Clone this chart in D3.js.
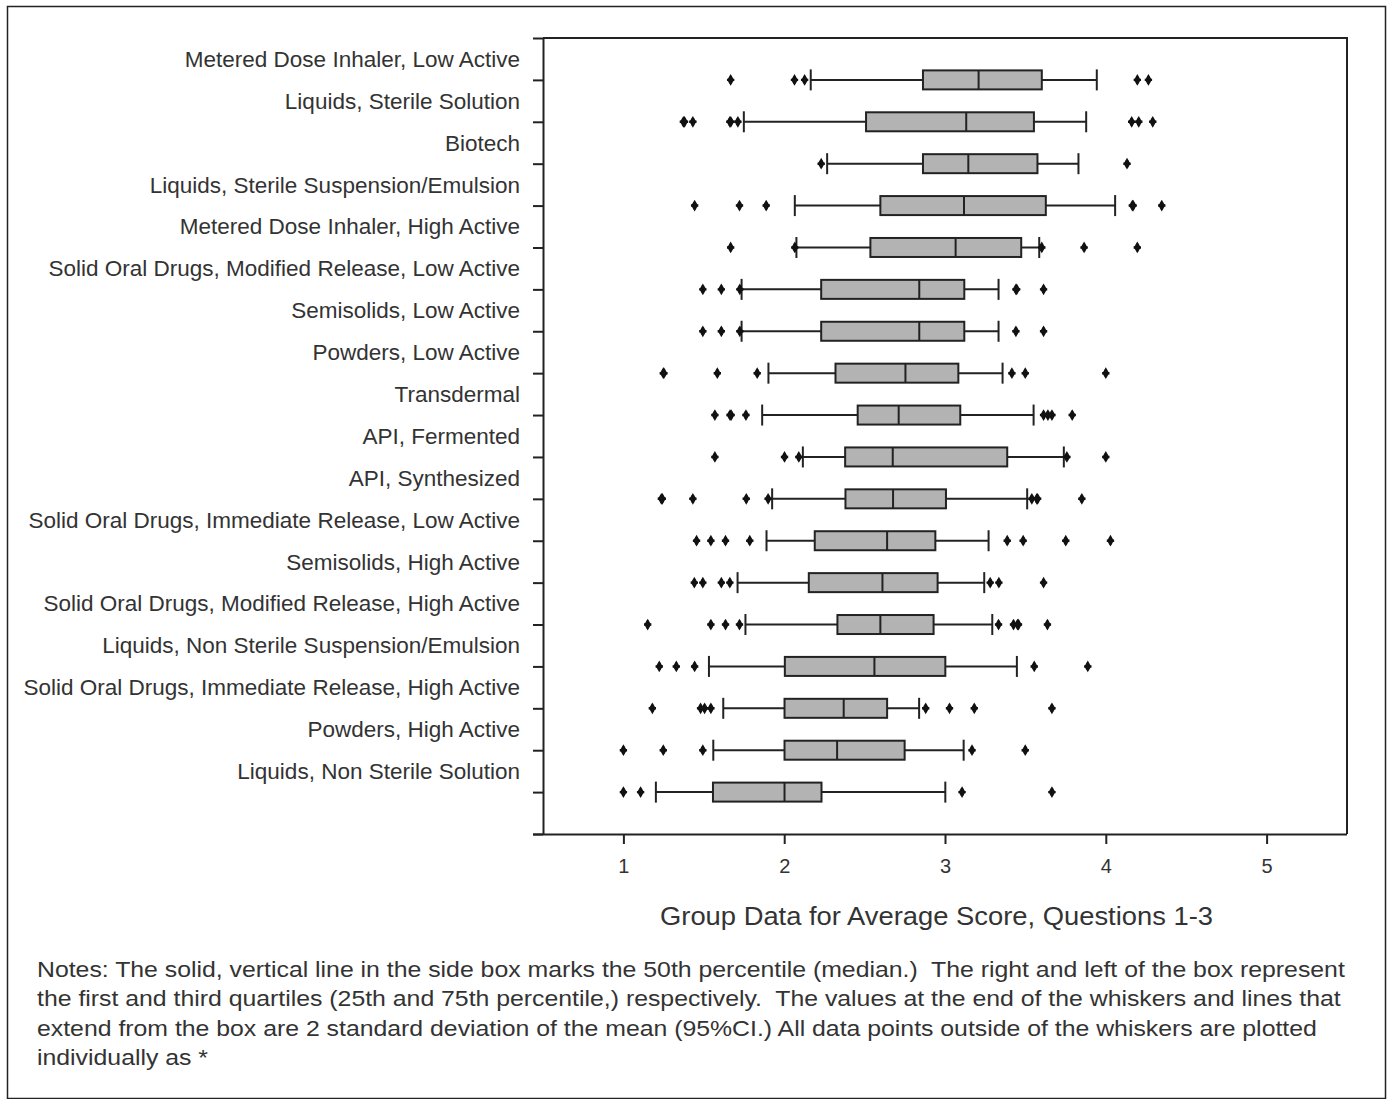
<!DOCTYPE html>
<html>
<head>
<meta charset="utf-8">
<script src="https://cdn.jsdelivr.net/npm/d3@7"></script>
<style>
  html, body { margin: 0; padding: 0; background: #fff; }
  svg { display: block; }
  text { font-family: "Liberation Sans", Arial, sans-serif; fill: #333; }
</style>
</head>
<body>
<svg id="chart" width="1391" height="1099"></svg>
<script>
// ---------------- data ----------------
const categories = [
  "Metered Dose Inhaler, Low Active",
  "Liquids, Sterile Solution",
  "Biotech",
  "Liquids, Sterile Suspension/Emulsion",
  "Metered Dose Inhaler, High Active",
  "Solid Oral Drugs, Modified Release, Low Active",
  "Semisolids, Low Active",
  "Powders, Low Active",
  "Transdermal",
  "API, Fermented",
  "API, Synthesized",
  "Solid Oral Drugs, Immediate Release, Low Active",
  "Semisolids, High Active",
  "Solid Oral Drugs, Modified Release, High Active",
  "Liquids, Non Sterile Suspension/Emulsion",
  "Solid Oral Drugs, Immediate Release, High Active",
  "Powders, High Active",
  "Liquids, Non Sterile Solution"
];
const whiskerLow  = [2.165, 1.749, 2.267, 2.066, 2.076, 1.735, 1.735, 1.902, 1.863, 2.116, 1.925, 1.890, 1.710, 1.759, 1.532, 1.621, 1.559, 1.202];
const q1          = [2.863, 2.509, 2.863, 2.598, 2.536, 2.230, 2.230, 2.319, 2.457, 2.379, 2.381, 2.190, 2.153, 2.331, 2.004, 2.002, 2.002, 1.557];
const medians     = [3.209, 3.132, 3.145, 3.118, 3.066, 2.840, 2.840, 2.754, 2.712, 2.675, 2.677, 2.640, 2.611, 2.598, 2.561, 2.370, 2.329, 2.002];
const q3          = [3.602, 3.553, 3.575, 3.627, 3.474, 3.120, 3.120, 3.083, 3.095, 3.387, 3.006, 2.940, 2.954, 2.929, 3.002, 2.640, 2.749, 2.232];
const whiskerHigh = [3.944, 3.878, 3.830, 4.058, 3.586, 3.333, 3.333, 3.358, 3.551, 3.739, 3.511, 3.271, 3.244, 3.294, 3.447, 2.839, 3.116, 3.002];
const outliers = [
  [1.667, 2.064, 2.127, 4.196, 4.265],
  [1.373, 1.380, 1.432, 1.662, 1.668, 1.712, 4.161, 4.205, 4.292],
  [2.230, 4.132],
  [1.443, 1.722, 1.888, 4.165, 4.170, 4.348],
  [1.667, 2.066, 3.602, 3.865, 4.196],
  [1.494, 1.609, 1.724, 3.441, 3.446, 3.613],
  [1.494, 1.609, 1.724, 3.441, 3.613],
  [1.248, 1.252, 1.584, 1.832, 3.416, 3.499, 4.000],
  [1.569, 1.663, 1.670, 1.762, 3.613, 3.640, 3.665, 3.791],
  [1.569, 2.002, 2.091, 3.758, 4.000],
  [1.236, 1.242, 1.432, 1.764, 1.900, 3.540, 3.571, 3.576, 3.851],
  [1.455, 1.544, 1.635, 1.786, 3.387, 3.486, 3.751, 4.029],
  [1.441, 1.494, 1.609, 1.662, 3.281, 3.335, 3.613],
  [1.151, 1.544, 1.635, 1.722, 3.333, 3.426, 3.451, 3.457, 3.637],
  [1.223, 1.329, 1.443, 3.555, 3.888],
  [1.180, 1.480, 1.505, 1.544, 2.880, 3.028, 3.182, 3.665],
  [1.000, 1.248, 1.494, 3.168, 3.499],
  [1.000, 1.107, 3.106, 3.665]
];
const xTicks = [1, 2, 3, 4, 5];
const xTitle = "Group Data for Average Score, Questions 1-3";
const notes = [
  "Notes: The solid, vertical line in the side box marks the 50th percentile (median.)  The right and left of the box represent",
  "the first and third quartiles (25th and 75th percentile,) respectively.  The values at the end of the whiskers and lines that",
  "extend from the box are 2 standard deviation of the mean (95%CI.) All data points outside of the whiskers are plotted",
  "individually as *"
];

// ---------------- layout ----------------
const svg = d3.select("#chart");
const plot = { left: 543, right: 1347, top: 38, bottom: 834 };
const ink = "#222";

svg.append("rect")
  .attr("x", 7.5).attr("y", 6.5).attr("width", 1378).attr("height", 1092)
  .attr("fill", "none").attr("stroke", ink).attr("stroke-width", 1.5);

const x = d3.scaleLinear().domain([0.5, 5.5]).range([plot.left, plot.right]);
const y = d3.scaleLinear().domain([0, categories.length + 1]).range([plot.top, plot.bottom]);

// plot frame (top & right)
svg.append("path")
  .attr("d", `M${plot.left},${plot.top}H${plot.right}V${plot.bottom}`)
  .attr("fill", "none").attr("stroke", ink).attr("stroke-width", 2);

// y axis
const yAxis = svg.append("g")
  .attr("transform", `translate(${plot.left},0)`)
  .call(d3.axisLeft(y).tickValues(d3.range(0, categories.length + 2)).tickSize(10).tickSizeOuter(0).tickFormat(""));
yAxis.selectAll("path, line").attr("stroke", ink).attr("stroke-width", 2);

// x axis
const xAxis = svg.append("g")
  .attr("transform", `translate(0,${plot.bottom})`)
  .call(d3.axisBottom(x).tickValues(xTicks).tickSize(10).tickSizeOuter(0).tickPadding(15).tickFormat(d3.format("d")));
xAxis.selectAll("path, line").attr("stroke", ink).attr("stroke-width", 2);
xAxis.select(".domain").attr("d", `M${plot.left - 10},0.5H${plot.right}`);
xAxis.selectAll("text")
  .style("font-family", "'Liberation Sans', Arial, sans-serif")
  .style("font-size", "20px").attr("fill", "#333");

// category labels (between ticks, above each box)
svg.append("g").selectAll("text")
  .data(categories)
  .join("text")
  .attr("x", 520)
  .attr("y", (d, i) => y(i + 0.5))
  .attr("dy", "0.35em")
  .attr("text-anchor", "end")
  .style("font-size", "22.5px")
  .text(d => d);

// boxes
const half = 10;
const rows = svg.append("g").selectAll("g")
  .data(categories.map((c, i) => ({
    c, i, lo: whiskerLow[i], q1: q1[i], med: medians[i], q3: q3[i], hi: whiskerHigh[i], out: outliers[i]
  })))
  .join("g")
  .attr("transform", d => `translate(0,${y(d.i + 1)})`);

rows.append("line") // whisker line
  .attr("x1", d => x(d.lo)).attr("x2", d => x(d.hi))
  .attr("stroke", ink).attr("stroke-width", 2);
rows.append("line")
  .attr("x1", d => x(d.lo)).attr("x2", d => x(d.lo))
  .attr("y1", -half - 0.5).attr("y2", half + 0.5)
  .attr("stroke", ink).attr("stroke-width", 2);
rows.append("line")
  .attr("x1", d => x(d.hi)).attr("x2", d => x(d.hi))
  .attr("y1", -half - 0.5).attr("y2", half + 0.5)
  .attr("stroke", ink).attr("stroke-width", 2);
rows.append("rect")
  .attr("x", d => x(d.q1)).attr("width", d => x(d.q3) - x(d.q1))
  .attr("y", -half + 0.5).attr("height", 2 * half - 1)
  .attr("fill", "#b3b3b3").attr("stroke", ink).attr("stroke-width", 2);
rows.append("line")
  .attr("x1", d => x(d.med)).attr("x2", d => x(d.med))
  .attr("y1", -half + 0.5).attr("y2", half - 0.5)
  .attr("stroke", ink).attr("stroke-width", 2);

// outliers
const diamond = d3.symbol().type(d3.symbolDiamond).size(40)();
const cross = d3.symbol().type(d3.symbolCross).size(30)();
rows.each(function(d) {
  const g = d3.select(this);
  const pts = g.selectAll("g.out").data(d.out).join("g").attr("class", "out")
    .attr("transform", v => `translate(${x(v)},0)`);
  pts.append("path").attr("d", diamond).attr("fill", "#111");
  pts.append("path").attr("d", cross).attr("fill", "#111");
});

// x title
svg.append("text")
  .attr("x", 660).attr("y", 925)
  .attr("textLength", 553)
  .attr("lengthAdjust", "spacingAndGlyphs")
  .style("font-size", "26px")
  .text(xTitle);

// notes (horizontally scaled so the first line spans the same width as the reference)
const notesG = svg.append("g");
const noteTexts = notesG.selectAll("text")
  .data(notes)
  .join("text")
  .attr("x", 0)
  .attr("y", (d, i) => 977 + i * 29.3)
  .style("font-size", "22px")
  .style("white-space", "pre")
  .attr("xml:space", "preserve")
  .text(d => d);
const w0 = noteTexts.node().getComputedTextLength();
const sx = 1309 / w0;
notesG.attr("transform", `translate(37,0) scale(${sx},1)`);
</script>
</body>
</html>
